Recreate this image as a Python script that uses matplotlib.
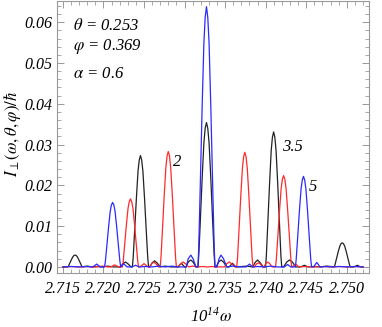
import matplotlib
matplotlib.use('Agg')
import matplotlib.pyplot as plt
from matplotlib.ticker import MultipleLocator, FormatStrFormatter

plt.rcParams['font.family'] = ['Liberation Serif', 'DejaVu Serif']
plt.rcParams['mathtext.fontset'] = 'stix'

# curve vertices (x = 1e-14 omega, y = intensity)
black_x = [2.71500, 2.71560, 2.71569, 2.71582, 2.71605, 2.71623, 2.71636, 2.71650, 2.71664, 2.71677, 2.71695, 2.71718, 2.71731, 2.71740,
           2.71800, 2.71860, 2.71920, 2.71980, 2.72050, 2.72120, 2.72210, 2.72240, 2.72270, 2.72300, 2.72340,
           2.72356, 2.72366, 2.72381, 2.72406, 2.72426, 2.72441, 2.72456, 2.72471, 2.72486, 2.72506, 2.72531, 2.72546, 2.72556,
           2.72570, 2.72600, 2.72630, 2.72660, 2.72700, 2.72760, 2.72830, 2.72920, 2.72960, 2.73000,
           2.73020, 2.73045, 2.73077, 2.73105, 2.73140,
           2.73165, 2.73175, 2.73191, 2.73217, 2.73238, 2.73254, 2.73270, 2.73286, 2.73302, 2.73323, 2.73349, 2.73365, 2.73375,
           2.73390, 2.73420, 2.73449, 2.73480, 2.73520, 2.73550, 2.73590, 2.73630, 2.73700, 2.73770, 2.73840,
           2.73870, 2.73900, 2.73930, 2.73970,
           2.73998, 2.74008, 2.74023, 2.74048, 2.74068, 2.74083, 2.74098, 2.74113, 2.74128, 2.74148, 2.74173, 2.74188, 2.74198,
           2.74220, 2.74260, 2.74294, 2.74330, 2.74370, 2.74430, 2.74478, 2.74520, 2.74600, 2.74680, 2.74750, 2.74800,
           2.74844, 2.74854, 2.74869, 2.74894, 2.74914, 2.74929, 2.74944, 2.74959, 2.74974, 2.74994, 2.75019, 2.75034, 2.75044,
           2.75090, 2.75130, 2.75170, 2.75200]
black_y = [0.0000, 0.0000, 0.0002, 0.0008, 0.0018, 0.0025, 0.0028, 0.0029, 0.0028, 0.0025, 0.0018, 0.0008, 0.0002, 0.0000,
           0.0002, 0.0000, 0.0001, 0.0000, 0.0002, 0.0000, 0.0000, 0.0008, 0.0012, 0.0008, 0.0000,
           0.0000, 0.0022, 0.0076, 0.0169, 0.0235, 0.0262, 0.0273, 0.0262, 0.0235, 0.0169, 0.0076, 0.0022, 0.0000,
           0.0000, 0.0010, 0.0015, 0.0010, 0.0000, 0.0002, 0.0000, 0.0000, 0.0009, 0.0000,
           0.0000, 0.0012, 0.0017, 0.0012, 0.0000,
           0.0000, 0.0028, 0.0099, 0.0219, 0.0304, 0.0340, 0.0354, 0.0340, 0.0304, 0.0219, 0.0099, 0.0028, 0.0000,
           0.0000, 0.0012, 0.0017, 0.0012, 0.0000, 0.0000, 0.0009, 0.0000, 0.0001, 0.0002, 0.0000,
           0.0011, 0.0017, 0.0011, 0.0000,
           0.0000, 0.0026, 0.0093, 0.0205, 0.0285, 0.0318, 0.0331, 0.0318, 0.0285, 0.0205, 0.0093, 0.0026, 0.0000,
           0.0000, 0.0012, 0.0017, 0.0012, 0.0000, 0.0000, 0.0004, 0.0000, 0.0001, 0.0000, 0.0002, 0.0001,
           0.0000, 0.0005, 0.0017, 0.0037, 0.0051, 0.0057, 0.0059, 0.0057, 0.0051, 0.0037, 0.0017, 0.0005, 0.0000,
           0.0000, 0.0004, 0.0000, 0.0000]

red_x = [2.71500, 2.71600, 2.71700, 2.71800, 2.71900, 2.71990, 2.72050, 2.72090, 2.72137, 2.72190,
         2.72233, 2.72243, 2.72258, 2.72283, 2.72303, 2.72318, 2.72333, 2.72348, 2.72363, 2.72383, 2.72408, 2.72423, 2.72433,
         2.72450, 2.72500, 2.72550, 2.72570, 2.72595, 2.72620, 2.72645, 2.72680,
         2.72699, 2.72709, 2.72724, 2.72749, 2.72769, 2.72784, 2.72799, 2.72814, 2.72829, 2.72849, 2.72874, 2.72889, 2.72899,
         2.72920, 2.72955, 2.72983, 2.73010, 2.73050, 2.73100, 2.73160, 2.73220, 2.73280, 2.73340, 2.73400,
         2.73490, 2.73520, 2.73550, 2.73580, 2.73620,
         2.73643, 2.73653, 2.73668, 2.73693, 2.73713, 2.73728, 2.73743, 2.73758, 2.73773, 2.73793, 2.73818, 2.73833, 2.73843,
         2.73860, 2.73885, 2.73910, 2.73935, 2.73960, 2.73980, 2.74000, 2.74025, 2.74050, 2.74080,
         2.74121, 2.74131, 2.74146, 2.74171, 2.74191, 2.74206, 2.74221, 2.74236, 2.74251, 2.74271, 2.74296, 2.74311, 2.74321,
         2.74330, 2.74370, 2.74410, 2.74500, 2.74600, 2.74700, 2.74800, 2.74900, 2.75000, 2.75100, 2.75200]
red_y = [0.0000, 0.0001, 0.0000, 0.0001, 0.0000, 0.0002, 0.0000, 0.0000, 0.0005, 0.0000,
         0.0000, 0.0013, 0.0047, 0.0104, 0.0144, 0.0160, 0.0167, 0.0160, 0.0144, 0.0104, 0.0047, 0.0013, 0.0000,
         0.0000, 0.0008, 0.0000, 0.0000, 0.0008, 0.0012, 0.0008, 0.0000,
         0.0000, 0.0023, 0.0079, 0.0175, 0.0243, 0.0272, 0.0283, 0.0272, 0.0243, 0.0175, 0.0079, 0.0023, 0.0000,
         0.0000, 0.0008, 0.0012, 0.0008, 0.0000, 0.0002, 0.0000, 0.0001, 0.0000, 0.0001, 0.0000,
         0.0000, 0.0008, 0.0012, 0.0008, 0.0000,
         0.0000, 0.0022, 0.0079, 0.0174, 0.0242, 0.0270, 0.0281, 0.0270, 0.0242, 0.0174, 0.0079, 0.0022, 0.0000,
         0.0000, 0.0007, 0.0010, 0.0007, 0.0000, 0.0000, 0.0008, 0.0012, 0.0008, 0.0000,
         0.0000, 0.0018, 0.0063, 0.0139, 0.0193, 0.0215, 0.0224, 0.0215, 0.0193, 0.0139, 0.0063, 0.0018, 0.0000,
         0.0000, 0.0007, 0.0000, 0.0001, 0.0000, 0.0001, 0.0000, 0.0001, 0.0000, 0.0001, 0.0000]

blue_x = [2.71500, 2.71600, 2.71700, 2.71780, 2.71870, 2.71917, 2.71960,
          2.72013, 2.72023, 2.72038, 2.72063, 2.72083, 2.72098, 2.72113, 2.72128, 2.72143, 2.72163, 2.72188, 2.72203, 2.72213,
          2.72248, 2.72290, 2.72350, 2.72395, 2.72440, 2.72520, 2.72600, 2.72680, 2.72760, 2.72840, 2.72920,
          2.73020, 2.73045, 2.73077, 2.73105, 2.73140,
          2.73165, 2.73175, 2.73191, 2.73217, 2.73238, 2.73254, 2.73270, 2.73286, 2.73302, 2.73323, 2.73349, 2.73365, 2.73375,
          2.73400, 2.73425, 2.73449, 2.73480, 2.73520, 2.73600, 2.73680, 2.73760, 2.73800, 2.73840,
          2.73900, 2.73980, 2.74060, 2.74140, 2.74230, 2.74270, 2.74310,
          2.74366, 2.74376, 2.74391, 2.74416, 2.74436, 2.74451, 2.74466, 2.74481, 2.74496, 2.74516, 2.74541, 2.74556, 2.74566,
          2.74590, 2.74630, 2.74670, 2.74750, 2.74830, 2.74910, 2.75000, 2.75100, 2.75200]
blue_y = [0.0000, 0.0001, 0.0000, 0.0001, 0.0000, 0.0007, 0.0000,
          0.0000, 0.0013, 0.0044, 0.0098, 0.0136, 0.0152, 0.0158, 0.0152, 0.0136, 0.0098, 0.0044, 0.0013, 0.0000,
          0.0008, 0.0000, 0.0000, 0.0004, 0.0000, 0.0001, 0.0000, 0.0002, 0.0000, 0.0002, 0.0000,
          0.0000, 0.0020, 0.0029, 0.0020, 0.0000,
          0.0000, 0.0051, 0.0179, 0.0396, 0.0549, 0.0612, 0.0638, 0.0612, 0.0549, 0.0396, 0.0179, 0.0051, 0.0000,
          0.0000, 0.0020, 0.0029, 0.0020, 0.0000, 0.0002, 0.0000, 0.0000, 0.0007, 0.0000,
          0.0001, 0.0000, 0.0002, 0.0000, 0.0000, 0.0006, 0.0000,
          0.0000, 0.0018, 0.0062, 0.0138, 0.0191, 0.0213, 0.0222, 0.0213, 0.0191, 0.0138, 0.0062, 0.0018, 0.0000,
          0.0000, 0.0011, 0.0000, 0.0001, 0.0000, 0.0001, 0.0000, 0.0001, 0.0000]

fig = plt.figure(figsize=(3.82, 3.27), dpi=100)
ax = fig.add_axes([0.149, 0.165, 0.817, 0.832])

ax.plot(black_x, black_y, color='#222222', lw=0.9)
ax.plot(red_x, red_y, color='#ff2a2a', lw=0.9)
ax.plot(blue_x, blue_y, color='#2a2aff', lw=0.9)

ax.set_xlim(2.71426, 2.75274)
ax.set_ylim(-0.0015, 0.0652)

ax.xaxis.set_major_locator(MultipleLocator(0.005))
ax.xaxis.set_minor_locator(MultipleLocator(0.001))
ax.yaxis.set_major_locator(MultipleLocator(0.01))
ax.yaxis.set_minor_locator(MultipleLocator(0.002))
ax.xaxis.set_major_formatter(FormatStrFormatter('%.3f'))
ax.yaxis.set_major_formatter(FormatStrFormatter('%.2f'))

ax.tick_params(which='both', direction='in', top=True, right=True, color='#999999', labelsize=11.5)
ax.tick_params(which='major', length=5, width=0.7)
ax.tick_params(which='minor', length=3, width=0.6)
ax.tick_params(axis='x', pad=6)
ax.tick_params(axis='y', pad=3)
plt.setp(ax.get_xticklabels() + ax.get_yticklabels(), fontstyle='italic')
for s in ax.spines.values():
    s.set_color('#999999')
    s.set_linewidth(0.8)

ax.text(0.051, 0.908, r'$\theta$ = 0.253', transform=ax.transAxes, fontsize=12, va='center', fontstyle='italic')
ax.text(0.051, 0.831, r'$\varphi$ = 0.369', transform=ax.transAxes, fontsize=12, va='center', fontstyle='italic')
ax.text(0.051, 0.732, r'$\alpha$ = 0.6', transform=ax.transAxes, fontsize=12, va='center', fontstyle='italic')

ax.text(2.72909, 0.0258, '2', fontsize=12, ha='center', va='center', fontstyle='italic')
ax.text(2.74331, 0.0295, '3.5', fontsize=12, ha='center', va='center', fontstyle='italic')
ax.text(2.74588, 0.0197, '5', fontsize=12, ha='center', va='center', fontstyle='italic')

fig.text(0.552, 0.033, r'10$^{\mathdefault{14}}\omega$', fontsize=12, ha='center', va='center', fontstyle='italic')
fig.text(0.034, 0.59, r'$I_{\perp}(\omega,\theta,\varphi)/\hbar$', fontsize=12,
         ha='center', va='center', rotation=90)

fig.savefig('out.png', dpi=100)
plt.close('all')
